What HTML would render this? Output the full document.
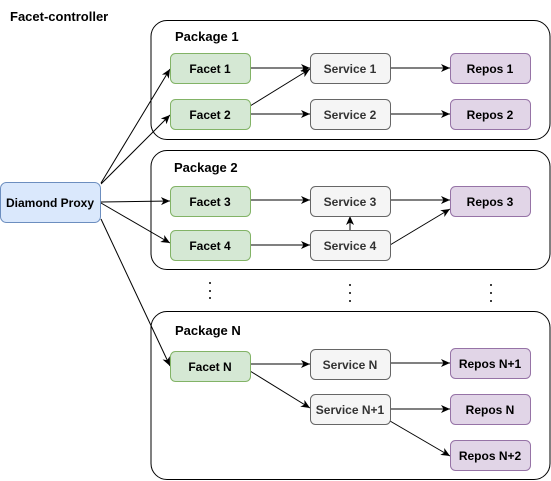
<!DOCTYPE html>
<html><head><style>body{margin:0;background:#fff}svg{display:block}text{font-family:"Liberation Sans",sans-serif;font-weight:bold}</style></head>
<body>
<svg width="551" height="481" viewBox="0 0 551 481" xmlns="http://www.w3.org/2000/svg">
<defs><marker id="a" markerWidth="10" markerHeight="10" refX="9" refY="5" orient="auto" markerUnits="userSpaceOnUse"><path d="M0,1 L9,5 L0,9 L2.5,5 Z" fill="#000"/></marker></defs>
<text x="10" y="21" font-size="13">Facet-controller</text>
<g fill="#fff" stroke="#000" stroke-width="1">
<rect x="151" y="20.5" width="399" height="119" rx="16"/>
<rect x="151" y="150.5" width="399" height="119" rx="16"/>
<rect x="151" y="311.5" width="399" height="168" rx="16"/>
</g>
<g font-size="13"><text x="175" y="41">Package 1</text><text x="174" y="172">Package 2</text><text x="175" y="335">Package N</text></g>
<g fill="#000"><circle cx="210" cy="283" r="1"/><circle cx="210" cy="291" r="1"/><circle cx="210" cy="298" r="1"/>
<circle cx="350" cy="285" r="1"/><circle cx="350" cy="293" r="1"/><circle cx="350" cy="301" r="1"/>
<circle cx="491" cy="285" r="1"/><circle cx="491" cy="293" r="1"/><circle cx="491" cy="301" r="1"/></g>
<g stroke="#000" fill="none" marker-end="url(#a)">
<line x1="101" y1="183" x2="170" y2="69"/><line x1="101" y1="184" x2="170" y2="115"/>
<line x1="101" y1="202" x2="170" y2="201"/><line x1="101" y1="203" x2="170" y2="243"/>
<line x1="101" y1="219" x2="170" y2="366"/>
<line x1="250" y1="68" x2="310" y2="68"/><line x1="250" y1="106" x2="310" y2="69"/><line x1="250" y1="114" x2="310" y2="114"/>
<line x1="390" y1="68" x2="450" y2="68"/><line x1="390" y1="114" x2="450" y2="114"/>
<line x1="250" y1="200" x2="310" y2="200"/><line x1="390" y1="200" x2="450" y2="200"/>
<line x1="250" y1="245" x2="310" y2="245"/><line x1="350" y1="230" x2="350" y2="216"/>
<line x1="390" y1="245" x2="450" y2="209"/>
<line x1="250" y1="364" x2="310" y2="364"/><line x1="250" y1="371" x2="310" y2="408"/>
<line x1="390" y1="363" x2="450" y2="363"/><line x1="390" y1="409" x2="450" y2="409"/>
<line x1="390" y1="421" x2="450" y2="456"/>
</g>
<g stroke-width="1">
<rect x="0.5" y="182.5" width="100" height="40" rx="6" fill="#dae8fc" stroke="#6c8ebf"/>
<g fill="#d5e8d4" stroke="#82b366">
<rect x="170.5" y="53.5" width="80" height="30" rx="5"/><rect x="170.5" y="99.5" width="80" height="30" rx="5"/>
<rect x="170.5" y="186.5" width="80" height="30" rx="5"/><rect x="170.5" y="230.5" width="80" height="30" rx="5"/>
<rect x="170.5" y="351.5" width="80" height="30" rx="5"/></g>
<g fill="#f5f5f5" stroke="#666">
<rect x="310.5" y="53.5" width="80" height="30" rx="5"/><rect x="310.5" y="99.5" width="80" height="30" rx="5"/>
<rect x="310.5" y="186.5" width="80" height="30" rx="5"/><rect x="310.5" y="230.5" width="80" height="30" rx="5"/>
<rect x="310.5" y="349.5" width="80" height="30" rx="5"/><rect x="310.5" y="394.5" width="80" height="30" rx="5"/></g>
<g fill="#e1d5e7" stroke="#9673a6">
<rect x="450.5" y="53.5" width="80" height="30" rx="5"/><rect x="450.5" y="99.5" width="80" height="30" rx="5"/>
<rect x="450.5" y="186.5" width="80" height="30" rx="5"/>
<rect x="450.5" y="348.5" width="80" height="30" rx="5"/><rect x="450.5" y="394.5" width="80" height="30" rx="5"/><rect x="450.5" y="440.5" width="80" height="30" rx="5"/></g>
</g>
<g font-size="12" text-anchor="middle">
<text x="50" y="207">Diamond Proxy</text>
<text x="210" y="73">Facet 1</text><text x="210" y="119">Facet 2</text><text x="210" y="206">Facet 3</text><text x="210" y="250">Facet 4</text><text x="210" y="371">Facet N</text>
<g fill="#333"><text x="350" y="73">Service 1</text><text x="350" y="119">Service 2</text><text x="350" y="206">Service 3</text><text x="350" y="250">Service 4</text><text x="350" y="369">Service N</text><text x="350" y="414">Service N+1</text></g>
<text x="490" y="73">Repos 1</text><text x="490" y="119">Repos 2</text><text x="490" y="206">Repos 3</text>
<text x="490" y="368">Repos N+1</text><text x="490" y="414">Repos N</text><text x="490" y="460">Repos N+2</text>
</g>
</svg>
</body></html>
